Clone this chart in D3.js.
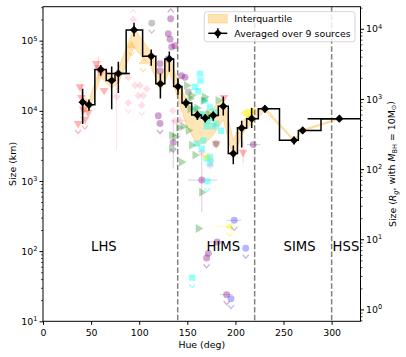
<!DOCTYPE html>
<html>
<head>
<meta charset="utf-8">
<script src="https://cdn.jsdelivr.net/npm/d3@7"></script>
<style>
body { margin: 0; background: #fff; }
svg { font-family: "DejaVu Sans", sans-serif; }
</style>
</head>
<body>
<div id="chart"></div>
<script>
// Averaged curve (9 sources), hue in deg, size in km
const avgHue  = [41.2, 47.8, 60.0, 71.4, 78.3, 94.6, 112.5, 122.0, 131.3, 140.3, 148.6, 160.5,
                 168.6, 177.0, 187.4, 197.8, 206.5, 216.9, 230.7, 260.9, 269.9, 308.0];
const avgSize = [13300, 12200, 38800, 27000, 34000, 142000, 60000, 24300, 55000, 22200, 12900, 8700,
                 7900, 8600, 11600, 2460, 5680, 7730, 10700, 3800, 5250, 7730];
const avgLo   = [6500, 10000, 32000, 10500, 18000, 115000, 44000, 15000, 36000, 17000, 11000, 7400,
                 6800, 7200, 8600, 1730, 3000, 5700, 9500, 3300, 4700, 7000];
const avgHi   = [20600, 14500, 45000, 43000, 50000, 180000, 75000, 34000, 70000, 29000, 15000, 10000,
                 9000, 9800, 16000, 3200, 7200, 11000, 12000, 4300, 5900, 8500];
const avgXerr = [2.5, 2.5, 3, 3, 12, 3, 3, 3, 3, 3, 3, 3, 3, 3, 3, 2.5, 5, 4, 3, 3, 3, 33];

// Interquartile band at the same hues
const iqrLo = [9500, 10000, 30000, 21000, 25000, 80000, 42000, 19000, 36000, 15000, 6500, 3200,
               3500, 4500, 7500, 2000, 4600, 6600, 10000, 3700, 5100, 7600];
const iqrHi = [15500, 14000, 44000, 33000, 40000, 150000, 68000, 30000, 60000, 26000, 15000, 10000,
               9500, 11000, 15000, 3800, 7000, 9500, 11200, 3900, 5400, 7900];

// State boundaries and labels
const stateBounds = [140, 220, 300];
const stateNames = ['LHS', 'HIMS', 'SIMS', 'HSS'];
const stateHue = [50, 170, 250, 301];

const xTicks = [0, 50, 100, 150, 200, 250, 300];
const yTicksExp = [1, 2, 3, 4, 5];
const yRTicksExp = [0, 1, 2, 3, 4];

// Individual sources (lim 1 = upper limit, 2 = lower limit)
const srcRed = [
    {h: 36.5, s: 6600, lim: 1}, {h: 38.5, s: 22000}, {h: 40, s: 15500, lo: 9000, hi: 24000},
    {h: 42, s: 10500}, {h: 43.5, s: 7600, lim: 1}, {h: 47, s: 9500}, {h: 55.5, s: 47000},
    {h: 57.5, s: 41000, lo: 28000, hi: 60000}, {h: 60, s: 35000}, {h: 63.5, s: 19500},
    {h: 180, s: 3400}, {h: 188, s: 15500}, {h: 208, s: 2570, lo: 1800, hi: 3700}
];
const srcOrange = [
    {h: 92, s: 85000, lim: 1}, {h: 104, s: 50000, lim: 1}
];
const srcPink = [
    {h: 93.8, s: 200000, lim: 2}, {h: 76.5, s: 16000, lo: 2800, hi: 26000}, {h: 88.7, s: 30000},
    {h: 88.7, s: 13000, lim: 1}, {h: 95.6, s: 23000}, {h: 99, s: 16500}, {h: 100.8, s: 23000},
    {h: 102.5, s: 12000, lim: 1}, {h: 104.2, s: 16500}, {h: 107.8, s: 20600}, {h: 135, s: 10000},
    {h: 137, s: 7200}, {h: 142.4, s: 7200, lo: 4000, hi: 11000, xlo: 133, xhi: 150},
    {h: 165, s: 2570}, {h: 173.6, s: 1660}, {h: 175, s: 1950}
];
const srcPurple = [
    {h: 132.7, s: 205000, lim: 2}, {h: 130.2, s: 126000}, {h: 132, s: 105000}, {h: 133.8, s: 81000},
    {h: 137, s: 85000}, {h: 130, s: 55000}, {h: 121.6, s: 47000}, {h: 121.6, s: 37000},
    {h: 144, s: 31600}, {h: 147.6, s: 30000}, {h: 119.8, s: 8500}, {h: 121.6, s: 6600, lim: 1},
    {h: 135.4, s: 3550, lim: 1, lo: 1500, hi: 7500},
    {h: 165, s: 1030, lo: 360, hi: 2600, xlo: 151, xhi: 181},
    {h: 218.5, s: 3300, xlo: 212, xhi: 226}, {h: 170, s: 80, lim: 1}, {h: 171.8, s: 93},
    {h: 181, s: 135, xlo: 172, xhi: 188}, {h: 190.9, s: 24, lim: 1, xlo: 184, xhi: 197}
];
const srcGray = [
    {h: 113, s: 178000, lim: 1}, {h: 151, s: 18600}, {h: 179.8, s: 3400}
];
const srcCyan = [
    {h: 163.2, s: 34000}, {h: 163.8, s: 27000}, {h: 157.9, s: 22000}, {h: 161.4, s: 19000},
    {h: 168, s: 14000}, {h: 173.6, s: 11200}, {h: 158, s: 10500}, {h: 178.8, s: 9500},
    {h: 166, s: 9000}, {h: 163.2, s: 8500}, {h: 175, s: 8000}, {h: 171, s: 7200},
    {h: 180, s: 6500}, {h: 170, s: 6000}, {h: 177, s: 6000}, {h: 185, s: 5200},
    {h: 166.6, s: 3800}, {h: 159.7, s: 3400}, {h: 165, s: 2900}, {h: 173.6, s: 2200},
    {h: 170, s: 2100}, {h: 173.6, s: 1780}, {h: 170.8, s: 990, lim: 1}, {h: 155.2, s: 42, lim: 1}
];
const srcGreen = [
    {h: 149.3, s: 23000}, {h: 154.5, s: 16500}, {h: 152.8, s: 15000}, {h: 168, s: 15800},
    {h: 166.6, s: 14000}, {h: 182, s: 14100}, {h: 152.8, s: 10700}, {h: 160, s: 11000},
    {h: 172, s: 9000}, {h: 145.8, s: 6000}, {h: 141, s: 5800}, {h: 151, s: 5250},
    {h: 133.8, s: 4470}, {h: 137, s: 4260}, {h: 154.5, s: 3240}, {h: 133.7, s: 2900},
    {h: 158, s: 2340}, {h: 144, s: 1860}, {h: 165, s: 690}, {h: 161.4, s: 210}
];
const srcYellow = [
    {h: 194.3, s: 224, lim: 1, xlo: 177, xhi: 205}, {h: 170, s: 2200}, {h: 210, s: 9500},
    {h: 213, s: 8500}, {h: 215, s: 9800}, {h: 218.5, s: 10000}
];
const srcBlue = [
    {h: 198.8, s: 275, lim: 1, xlo: 191, xhi: 206}, {h: 210.7, s: 110, lim: 1}, {h: 195.4, s: 21, lim: 1}
];

const RG_KM = 14.77; // 1 R_g for a 10 Msun black hole

var margin = {left: 43, right: 360.5, top: 6.7, bottom: 321.3};

var svg = d3.select('#chart').append('svg')
    .attr('width', 406)
    .attr('height', 357);

var xScale = d3.scaleLinear().domain([0, 330]).range([margin.left, margin.right]);
var yScale = d3.scaleLog().domain([10, 3.05e5]).range([margin.bottom, margin.top]);
var yRScale = d3.scaleLog().domain([10 / RG_KM, 3.05e5 / RG_KM]).range([margin.bottom, margin.top]);

svg.append('clipPath').attr('id', 'plot-clip')
    .append('rect')
    .attr('x', margin.left).attr('y', margin.top)
    .attr('width', margin.right - margin.left)
    .attr('height', margin.bottom - margin.top);

var plotG = svg.append('g').attr('clip-path', 'url(#plot-clip)');

// Interquartile band
var bandIdx = d3.range(avgHue.length);
var band = d3.area()
    .x(i => xScale(avgHue[i]))
    .y0(i => yScale(iqrLo[i]))
    .y1(i => yScale(iqrHi[i]));

plotG.append('path')
    .datum(bandIdx)
    .attr('d', band)
    .attr('fill', '#ffa500')
    .attr('fill-opacity', 0.28)
    .attr('stroke', '#ffa500')
    .attr('stroke-opacity', 0.3)
    .attr('stroke-width', 1);

// Scatter of the individual sources
var sources = [
    {data: srcRed, color: '#ff2a2a', alpha: 0.35, shape: 'down'},
    {data: srcOrange, color: '#ffa500', alpha: 0.32, shape: 'up'},
    {data: srcPink, color: '#ff7a95', alpha: 0.24, shape: 'diamond'},
    {data: srcPurple, color: '#800080', alpha: 0.36, shape: 'circle'},
    {data: srcGray, color: '#666666', alpha: 0.38, shape: 'circle'},
    {data: srcCyan, color: '#00ffff', alpha: 0.42, shape: 'square'},
    {data: srcGreen, color: '#008000', alpha: 0.3, shape: 'right'},
    {data: srcYellow, color: '#ffee00', alpha: 0.45, shape: 'left'},
    {data: srcBlue, color: '#2020ff', alpha: 0.33, shape: 'circle'}
];

function symbolFor(shape) {
    if (shape === 'circle') {
        return {path: d3.symbol().type(d3.symbolCircle).size(38)(), rot: 0};
    }
    if (shape === 'square') {
        return {path: d3.symbol().type(d3.symbolSquare).size(40)(), rot: 0};
    }
    if (shape === 'diamond') {
        return {path: d3.symbol().type(d3.symbolSquare).size(30)(), rot: 45};
    }
    var rot = {up: 0, down: 180, right: 90, left: -90}[shape];
    return {path: d3.symbol().type(d3.symbolTriangle).size(34)(), rot: rot};
}

sources.forEach(src => {
    var g = plotG.append('g');
    var sym = symbolFor(src.shape);

    // faint error bars
    src.data.forEach(d => {
        if (d.lo) {
            g.append('line')
                .attr('x1', xScale(d.h)).attr('x2', xScale(d.h))
                .attr('y1', yScale(d.lo)).attr('y2', yScale(d.hi))
                .attr('stroke', src.color).attr('stroke-opacity', 0.22).attr('stroke-width', 1);
        }
        if (d.xlo) {
            g.append('line')
                .attr('x1', xScale(d.xlo)).attr('x2', xScale(d.xhi))
                .attr('y1', yScale(d.s)).attr('y2', yScale(d.s))
                .attr('stroke', src.color).attr('stroke-opacity', 0.22).attr('stroke-width', 1);
        }
    });

    g.selectAll('.pt')
        .data(src.data).enter()
        .append('path')
            .attr('d', sym.path)
            .attr('transform', d => 'translate(' + xScale(d.h) + ',' + yScale(d.s) + ') rotate(' + sym.rot + ')')
            .attr('fill', src.color)
            .attr('fill-opacity', src.alpha);

    // limit chevrons
    g.selectAll('.lim')
        .data(src.data.filter(d => d.lim)).enter()
        .append('path')
            .attr('d', d => {
                var cx = xScale(d.h);
                var cy = yScale(d.s);
                if (d.lim === 1) {
                    return 'M' + (cx - 3) + ',' + (cy + 6.5) + 'L' + cx + ',' + (cy + 10) + 'L' + (cx + 3) + ',' + (cy + 6.5);
                }
                return 'M' + (cx - 3) + ',' + (cy - 6.5) + 'L' + cx + ',' + (cy - 10) + 'L' + (cx + 3) + ',' + (cy - 6.5);
            })
            .attr('fill', 'none')
            .attr('stroke', src.color)
            .attr('stroke-opacity', src.alpha)
            .attr('stroke-width', 1.2);
});

// State boundaries
plotG.selectAll('.state-line')
    .data(stateBounds).enter()
    .append('line')
        .attr('x1', d => xScale(d)).attr('x2', d => xScale(d))
        .attr('y1', margin.top).attr('y2', margin.bottom)
        .attr('stroke', '#808080')
        .attr('stroke-width', 1.5)
        .attr('stroke-dasharray', '5.5,2.4');

svg.selectAll('.state-name')
    .data(stateNames).enter()
    .append('text')
        .attr('x', (d, i) => xScale(stateHue[i]))
        .attr('y', yScale(100))
        .attr('font-size', '13.2px')
        .attr('fill', '#000')
        .text(d => d);

// Averaged curve: steps-mid line plus error bars and markers
var stepLine = d3.line()
    .x(i => xScale(avgHue[i]))
    .y(i => yScale(avgSize[i]))
    .curve(d3.curveStep);

plotG.append('path')
    .datum(bandIdx)
    .attr('d', stepLine)
    .attr('fill', 'none')
    .attr('stroke', '#000')
    .attr('stroke-width', 1.5);

bandIdx.forEach(i => {
    var cx = xScale(avgHue[i]);
    var cy = yScale(avgSize[i]);
    plotG.append('line')
        .attr('x1', cx).attr('x2', cx)
        .attr('y1', yScale(avgLo[i])).attr('y2', yScale(avgHi[i]))
        .attr('stroke', '#000').attr('stroke-width', 1.5);
    plotG.append('line')
        .attr('x1', xScale(avgHue[i] - avgXerr[i])).attr('x2', xScale(avgHue[i] + avgXerr[i]))
        .attr('y1', cy).attr('y2', cy)
        .attr('stroke', '#000').attr('stroke-width', 1.5);
});

var diamond = d3.symbol().type(d3.symbolSquare).size(34)();
plotG.selectAll('.avg-pt')
    .data(bandIdx).enter()
    .append('path')
        .attr('d', diamond)
        .attr('transform', i => 'translate(' + xScale(avgHue[i]) + ',' + yScale(avgSize[i]) + ') rotate(45)')
        .attr('fill', '#000');

// Axes
var axisFont = '9.4px';

function minorValues(lo, hi) {
    var vals = [];
    for (var e = -1; e <= 5; e++) {
        for (var m = 2; m <= 9; m++) {
            var v = m * Math.pow(10, e);
            if (v > lo && v < hi) vals.push(v);
        }
    }
    return vals;
}

var xAxis = svg.append('g')
    .attr('transform', 'translate(0,' + margin.bottom + ')')
    .call(d3.axisBottom(xScale).tickValues(xTicks).tickSize(3.5).tickPadding(4.5).tickSizeOuter(0));
xAxis.select('.domain').remove();
xAxis.selectAll('text').attr('font-size', axisFont).attr('font-family', '"DejaVu Sans", sans-serif');

var yMajor = yTicksExp.map(e => Math.pow(10, e));
var yAxis = svg.append('g')
    .attr('transform', 'translate(' + margin.left + ',0)')
    .call(d3.axisLeft(yScale).tickValues(yMajor).tickSize(3.5).tickFormat('').tickSizeOuter(0));
yAxis.select('.domain').remove();
var yMinor = svg.append('g')
    .attr('transform', 'translate(' + margin.left + ',0)')
    .call(d3.axisLeft(yScale).tickValues(minorValues(10, 3.05e5)).tickSize(2).tickFormat('').tickSizeOuter(0));
yMinor.select('.domain').remove();
yMinor.selectAll('line').attr('stroke-width', 0.7);

var yRMajor = yRTicksExp.map(e => Math.pow(10, e));
var yRAxis = svg.append('g')
    .attr('transform', 'translate(' + margin.right + ',0)')
    .call(d3.axisRight(yRScale).tickValues(yRMajor).tickSize(3.5).tickFormat('').tickSizeOuter(0));
yRAxis.select('.domain').remove();
var yRMinor = svg.append('g')
    .attr('transform', 'translate(' + margin.right + ',0)')
    .call(d3.axisRight(yRScale).tickValues(minorValues(10 / RG_KM, 3.05e5 / RG_KM)).tickSize(2).tickFormat('').tickSizeOuter(0));
yRMinor.select('.domain').remove();
yRMinor.selectAll('line').attr('stroke-width', 0.7);

function powLabel(xPos, yPos, exp, anchor) {
    var t = svg.append('text')
        .attr('x', xPos).attr('y', yPos)
        .attr('dy', '0.38em')
        .attr('text-anchor', anchor)
        .attr('font-size', axisFont);
    t.append('tspan').text('10');
    t.append('tspan').attr('dy', '-0.55em').attr('font-size', '6.6px').text(exp);
}

yTicksExp.forEach(e => powLabel(margin.left - 5.5, yScale(Math.pow(10, e)), e, 'end'));
yRTicksExp.forEach(e => powLabel(margin.right + 5.5, yRScale(Math.pow(10, e)), e, 'start'));

// Frame
svg.append('rect')
    .attr('x', margin.left).attr('y', margin.top)
    .attr('width', margin.right - margin.left)
    .attr('height', margin.bottom - margin.top)
    .attr('fill', 'none')
    .attr('stroke', '#000')
    .attr('stroke-width', 1);

// Axis labels
svg.append('text')
    .attr('x', (margin.left + margin.right) / 2)
    .attr('y', 348)
    .attr('text-anchor', 'middle')
    .attr('font-size', axisFont)
    .text('Hue (deg)');

var midY = (margin.top + margin.bottom) / 2;
svg.append('text')
    .attr('transform', 'translate(15.5,' + midY + ') rotate(-90)')
    .attr('text-anchor', 'middle')
    .attr('font-size', axisFont)
    .text('Size (km)');

var rLabel = svg.append('text')
    .attr('transform', 'translate(396,' + midY + ') rotate(-90)')
    .attr('text-anchor', 'middle')
    .attr('font-size', axisFont);
rLabel.append('tspan').text('Size (');
rLabel.append('tspan').attr('font-style', 'italic').text('R');
rLabel.append('tspan').attr('font-style', 'italic').attr('font-size', '6.6px').attr('dy', '0.25em').text('g');
rLabel.append('tspan').attr('dy', '-0.25em').text(', with ');
rLabel.append('tspan').attr('font-style', 'italic').text('M');
rLabel.append('tspan').attr('font-size', '6.6px').attr('dy', '0.25em').text('BH');
rLabel.append('tspan').attr('dy', '-0.25em').text(' = 10M');
rLabel.append('tspan').attr('font-size', '6.6px').attr('dy', '0.25em').text('\u2299');
rLabel.append('tspan').attr('dy', '-0.25em').text(')');

// Legend
var legend = svg.append('g');
legend.append('rect')
    .attr('x', 204.3).attr('y', 11.7)
    .attr('width', 150.7).attr('height', 30)
    .attr('rx', 2.5)
    .attr('fill', '#fff').attr('fill-opacity', 0.8)
    .attr('stroke', '#cccccc').attr('stroke-width', 0.8);
legend.append('rect')
    .attr('x', 208.3).attr('y', 14.5)
    .attr('width', 19).attr('height', 8.5)
    .attr('fill', '#ffa500').attr('fill-opacity', 0.3)
    .attr('stroke', '#ffa500').attr('stroke-opacity', 0.3);
legend.append('text')
    .attr('x', 234.3).attr('y', 22.4)
    .attr('font-size', axisFont)
    .text('Interquartile');
legend.append('line')
    .attr('x1', 208.3).attr('x2', 227.3)
    .attr('y1', 33.3).attr('y2', 33.3)
    .attr('stroke', '#000').attr('stroke-width', 1.5);
legend.append('line')
    .attr('x1', 217.8).attr('x2', 217.8)
    .attr('y1', 28.3).attr('y2', 38.3)
    .attr('stroke', '#000').attr('stroke-width', 1.5);
legend.append('path')
    .attr('d', diamond)
    .attr('transform', 'translate(217.8,33.3) rotate(45)')
    .attr('fill', '#000');
legend.append('text')
    .attr('x', 234.3).attr('y', 36.6)
    .attr('font-size', axisFont)
    .text('Averaged over 9 sources');
</script>
</body>
</html>
